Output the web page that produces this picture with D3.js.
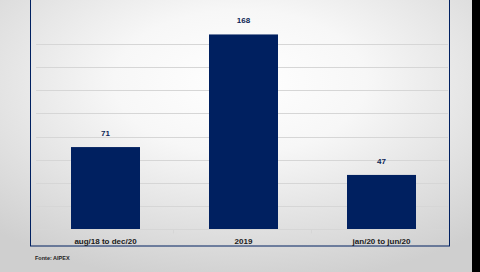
<!DOCTYPE html>
<html>
<head>
<meta charset="utf-8">
<script src="https://cdn.jsdelivr.net/npm/d3@7"></script>
<style>
  html, body { margin: 0; padding: 0; }
  body { width: 480px; height: 272px; overflow: hidden; }
  svg { display: block; font-family: "Liberation Sans", Arial, sans-serif; }
</style>
</head>
<body>
<svg id="chart" width="480" height="272"></svg>
<script>
// data
const categories = ['aug/18 to dec/20', '2019', 'jan/20 to jun/20'];
const values = [71, 168, 47];
const gridTicks = [20, 40, 60, 80, 100, 120, 140, 160];
const source = 'Fonte: AIPEX';

const NAVY = '#002060';
const svg = d3.select('svg#chart');

// background: soft radial grey with a black strip on the right
const defs = svg.append('defs');
const grad = defs.append('radialGradient')
  .attr('id', 'bg')
  .attr('cx', '0.5').attr('cy', '0.3').attr('r', '0.75');
grad.append('stop').attr('offset', '0').attr('stop-color', '#ffffff');
grad.append('stop').attr('offset', '0.35').attr('stop-color', '#f7f7f7');
grad.append('stop').attr('offset', '1').attr('stop-color', '#cfcfcf');

svg.append('rect')
  .attr('width', 480).attr('height', 272)
  .attr('fill', 'url(#bg)');
svg.append('rect')
  .attr('x', 472).attr('y', 0)
  .attr('width', 8).attr('height', 272)
  .attr('fill', '#000');

// chart frame (top edge runs off the slide)
svg.append('rect')
  .attr('x', 30.5).attr('y', -5)
  .attr('width', 419).attr('height', 251)
  .attr('fill', 'none')
  .attr('stroke', NAVY)
  .attr('stroke-width', 1);

// plot area
const left = 36, right = 448, bottom = 229.5;
const x = d3.scaleBand()
  .domain(categories)
  .range([36.5, 450.5])
  .paddingInner(0.5)
  .paddingOuter(0.25);
const y = d3.scaleLinear()
  .domain([0, 180])
  .range([bottom, bottom - 180 * 1.161]);

// gridlines
svg.append('g')
  .selectAll('line')
  .data(gridTicks)
  .enter()
  .append('line')
  .attr('x1', left)
  .attr('x2', right)
  .attr('y1', (d) => Math.round(y(d)) + 0.5)
  .attr('y2', (d) => Math.round(y(d)) + 0.5)
  .attr('stroke', '#d6d6d6')
  .attr('stroke-width', 1.2);

// bars
svg.append('g')
  .selectAll('rect')
  .data(values)
  .enter()
  .append('rect')
  .attr('x', (d, i) => x(categories[i]))
  .attr('y', (d) => y(d))
  .attr('width', x.bandwidth())
  .attr('height', (d) => y(0) - y(d))
  .attr('fill', NAVY);

// category axis: line, boundary ticks, labels
const axis = d3.axisBottom(x).tickSize(0).tickPadding(9);
const gx = svg.append('g')
  .attr('transform', `translate(0,${bottom})`)
  .call(axis);
gx.select('.domain')
  .attr('stroke', '#d6d6d6')
  .attr('d', `M${left},0H${right}`);
gx.selectAll('text')
  .attr('font-family', '"Liberation Sans", Arial, sans-serif')
  .attr('font-size', 8)
  .attr('font-weight', 'bold')
  .attr('fill', '#1a1a1a');

const step = (right - left) / categories.length;
gx.append('g')
  .selectAll('line')
  .data(d3.range(categories.length))
  .enter()
  .append('line')
  .attr('x1', (d) => Math.round(left + d * step) + 0.5)
  .attr('x2', (d) => Math.round(left + d * step) + 0.5)
  .attr('y1', 0)
  .attr('y2', 4)
  .attr('stroke', '#d6d6d6');

// value labels
svg.append('g')
  .selectAll('text')
  .data(values)
  .enter()
  .append('text')
  .attr('x', (d, i) => x(categories[i]) + x.bandwidth() / 2)
  .attr('y', (d) => y(d) - 11)
  .attr('text-anchor', 'middle')
  .attr('font-size', 8)
  .attr('font-weight', 'bold')
  .attr('fill', '#0d1f55')
  .text((d) => d);

// source note
svg.append('text')
  .attr('x', 35)
  .attr('y', 260)
  .attr('font-size', 5.5)
  .attr('font-weight', 'bold')
  .attr('fill', '#222')
  .text(source);
</script>
</body>
</html>
